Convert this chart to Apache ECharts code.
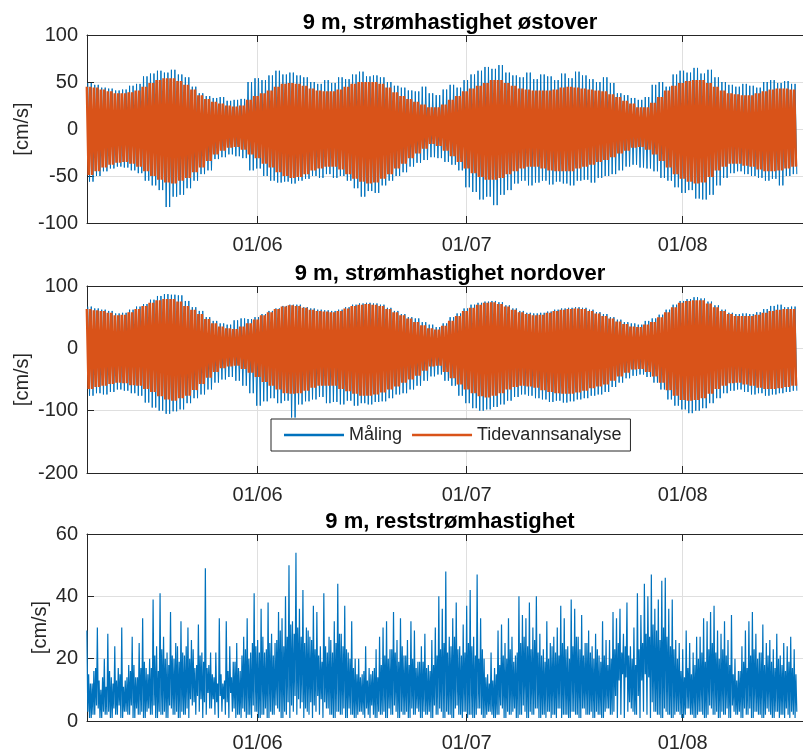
<!DOCTYPE html>
<html><head><meta charset="utf-8">
<script src="https://cdn.jsdelivr.net/npm/echarts@6/dist/echarts.min.js"></script>
<style>html,body{margin:0;padding:0;background:#fff}#c{width:803px;height:753px}</style>
</head><body><div id="c"></div>
<script>
// ---- Data (daily envelope extremes, cm/s), day 0 = 7 May 12:00 ----
const titles = ['9 m, strømhastighet østover', '9 m, strømhastighet nordover', '9 m, reststrømhastighet'];
const seriesNames = ['Måling', 'Tidevannsanalyse'];

const eastTideHi = [45,44,42,40,38,38,39,41,45,49, 52,54,54,51,47,42,36,32,29,27, 25,24,25,31,35,38,41,45,48,49, 48,46,43,41,40,40,42,45,48,50, 50,50,48,44,39,35,32,29,26,23, 23,26,31,35,40,43,46,49,52,52, 49,46,43,42,41,41,41,42,44,45, 44,43,42,41,40,37,34,30,27,23, 23,28,34,41,46,49,51,52,52,49, 45,41,38,37,36,36,38,40,42,43, 43,42];
const eastTideLo = [-49,-45,-41,-38,-36,-35,-37,-40,-45,-50, -54,-57,-58,-55,-52,-46,-41,-34,-27,-23, -20,-19,-22,-27,-31,-37,-41,-46,-50,-52, -51,-48,-44,-42,-40,-40,-43,-48,-53,-56, -58,-57,-53,-48,-42,-37,-31,-26,-21,-16, -18,-23,-29,-35,-42,-47,-51,-54,-54,-52, -48,-45,-42,-40,-40,-42,-44,-45,-45,-45, -42,-40,-38,-35,-33,-30,-26,-23,-20,-19, -22,-27,-34,-41,-48,-53,-56,-58,-57,-51, -44,-40,-37,-37,-39,-40,-43,-45,-45,-44, -42,-40];
const eastMeasHi = [49,47,44,43,41,42,46,48,56,59, 62,60,63,58,55,45,38,35,33,34, 30,31,32,50,54,52,57,62,58,60, 57,55,50,48,52,49,55,53,58,61, 56,57,55,50,46,44,41,40,45,38, 36,42,47,44,52,58,62,66,64,68, 60,57,55,60,53,58,56,52,59,54, 61,57,53,50,55,49,38,36,33,31, 34,47,50,45,58,62,60,65,59,63, 55,50,47,45,48,46,44,50,52,49, 51,48];
const eastMeasLo = [-56,-50,-45,-42,-40,-41,-44,-47,-55,-60, -65,-83,-72,-70,-63,-55,-48,-44,-32,-30, -27,-29,-31,-44,-42,-50,-55,-57,-56,-58, -55,-53,-50,-52,-48,-52,-50,-55,-63,-72, -66,-68,-60,-55,-50,-46,-40,-36,-33,-30, -31,-35,-38,-44,-62,-67,-75,-72,-81,-70, -65,-58,-55,-60,-57,-55,-59,-56,-58,-60, -55,-54,-57,-52,-50,-48,-44,-40,-38,-41, -42,-45,-52,-55,-62,-68,-65,-74,-75,-70, -60,-52,-47,-45,-48,-50,-52,-55,-53,-60, -50,-48];

const northTideHi = [63,61,60,57,53,54,58,63,68,73, 77,79,79,75,68,62,55,47,40,35, 32,31,35,40,46,53,58,63,67,69, 68,65,62,60,59,58,60,64,68,70, 71,70,68,63,58,53,48,42,37,32, 30,36,44,52,60,65,70,73,74,71, 67,62,58,55,53,54,57,60,62,63, 64,63,60,56,52,48,43,39,35,34, 38,42,50,58,66,73,76,77,77,72, 66,60,55,52,52,52,54,57,60,62, 63,63];
const northTideLo = [-65,-62,-60,-57,-55,-56,-59,-60,-65,-70, -77,-82,-84,-80,-76,-67,-57,-47,-38,-32, -29,-28,-33,-39,-46,-54,-60,-66,-72,-73, -72,-68,-63,-60,-60,-60,-65,-69,-73,-76, -76,-74,-71,-66,-61,-55,-50,-44,-36,-29, -28,-38,-48,-58,-66,-72,-77,-79,-76,-72, -66,-62,-60,-61,-63,-67,-70,-72,-73,-73, -71,-68,-64,-61,-58,-52,-45,-39,-34,-33, -38,-45,-55,-67,-76,-83,-84,-83,-80,-73, -65,-60,-56,-55,-58,-60,-63,-65,-65,-64, -62,-60];
const northMeasHi = [67,64,62,60,56,57,62,67,71,78, 84,87,86,85,76,66,60,50,44,40, 38,45,48,47,50,55,60,64,68,70, 70,66,64,62,61,60,62,66,70,72, 73,72,70,65,60,55,50,48,42,38, 34,40,50,56,64,70,73,75,76,74, 69,64,60,57,56,57,59,62,64,65, 66,65,62,58,55,50,46,42,40,38, 44,48,54,62,70,76,79,82,80,75, 69,62,57,55,56,55,58,63,68,70, 66,67];
const northMeasLo = [-76,-72,-74,-70,-66,-68,-72,-76,-87,-95, -100,-105,-101,-98,-88,-80,-74,-66,-55,-50, -46,-52,-60,-72,-92,-85,-80,-88,-84,-111, -90,-85,-82,-78,-88,-86,-90,-84,-92,-88, -90,-86,-85,-80,-74,-72,-66,-60,-52,-45, -42,-52,-60,-76,-88,-96,-100,-98,-94,-90, -84,-78,-74,-76,-80,-82,-86,-84,-87,-85, -82,-80,-76,-74,-70,-62,-55,-48,-44,-42, -46,-55,-66,-82,-92,-98,-104,-100,-96,-88, -80,-72,-68,-66,-70,-74,-72,-76,-74,-72, -70,-68];

// residual current: half-daily peaks, secondary peaks and troughs
const resHi = [29,12, 16,30, 10,20, 28,14, 24,17, 30,13, 18,27, 14,25, 33,17, 20,39,
  24,41, 27,22, 35,20, 24,32, 21,30, 26,17, 31,22, 49,18, 15,22, 33,12,
  32,24, 19,25, 16,27, 33,22, 41,26, 36,22, 38,28, 25,35, 33,40, 50,32,
  54,36, 42,30, 27,37, 35,24, 41,22, 26,32, 44,28, 37,22, 32,20, 20,15,
  24,17, 16,23, 27,30, 32,23, 35,26, 33,21, 26,32, 29,19, 24,28, 18,26,
  30,40, 36,48, 27,33, 38,24, 31,37, 42,27, 47,33, 20,15, 22,17, 29,31,
  25,33, 27,21, 40,34, 33,38, 30,40, 28,23, 32,25, 27,30, 37,33, 24,39,
  36,27, 34,25, 29,24, 28,21, 32,26, 26,35, 33,36, 28,38, 24,30, 41,34,
  44,40, 47,36, 39,45, 46,36, 39,26, 25,23, 29,25, 22,27, 27,33, 32,35,
  37,29, 28,32, 26,34, 20,16, 24,29, 32,35, 28,22, 31,25, 26,23, 28,21,
  25,24, 27,23];
const resMid = [15,12,17,13,14,11,16,12,13,15,11,14, 16,18,14,17,19,15,17,21,16,23,20,18,
  21,25,19,22,24,20,23,18,21,19,17,22, 14,12,15,13,16,14,19,17,21,23,20,25,
  24,22,27,23,25,21,26,29,24,27,31,28, 30,27,25,29,26,23,21,19,24,27,22,25,
  28,24,23,20,17,15,14,16,13,15,17,14, 18,21,20,23,22,19,24,21,18,20,17,19,
  19,17,16,18,21,23,25,22,24,27,23,21, 22,25,24,21,20,23,14,12,13,15,18,21,
  20,23,19,22,25,27,24,23,26,22,21,19, 20,24,22,21,25,23,20,24,27,23,21,25,
  22,20,23,19,21,18,20,23,25,22,24,21, 20,18,23,25,28,27,31,29,26,30,27,24,
  23,20,16,14,17,15,18,20,22,19,23,25, 22,20,23,21,18,15,13,16,19,17,21,23,
  20,22,18,21,19,17,20,18,16,19,17,15];
const resLo = [3,1,2,4,1,2,3,1,2,5,1,3, 2,1,4,2,1,3,2,5,1,2,3,1, 4,2,1,3,2,1,5,2,3,1,2,4,
  7,6,8,7,6,9,4,2,1,3,2,1, 3,1,2,4,1,2,5,3,1,2,1,3, 2,4,1,3,6,5,8,7,6,4,2,1,
  3,2,1,4,2,1,3,2,4,1,2,1, 2,3,1,2,5,1,3,2,1,4,2,3, 1,2,3,1,2,4,1,3,2,1,5,2,
  3,1,2,1,4,2,1,3,2,1,2,4, 1,2,3,1,2,5,1,3,2,4,1,2, 3,1,2,4,1,2,1,3,2,1,4,2,
  2,1,3,2,1,4,2,3,1,2,1,3, 4,2,8,13,15,14,6,3,2,1,3,2, 1,3,2,1,4,2,1,2,3,1,2,4,
  2,1,3,2,1,5,2,3,1,2,4,1, 3,2,1,4,2,1,3,2,1,2,3,1];

// ---- Build ----
const DAY = 86400000, HOUR = 3600000;
const start = new Date(2021, 4, 7, 12, 0).getTime();
const xMin = new Date(2021, 4, 7, 12, 20).getTime();
const xMax = xMin + 102.75 * DAY;

// each day's range drawn at the semidiurnal tidal period (two cycles per day)
function tidal(hi, lo, offset) {
  const out = [];
  hi.forEach((v, i) => {
    const t = start + i * DAY + offset;
    out.push([t, v], [t + 6 * HOUR, lo[i]], [t + 12 * HOUR, v], [t + 18 * HOUR, lo[i]]);
  });
  return out;
}
const resData = [];
resHi.forEach((v, k) => {
  const t = start + k * 12 * HOUR;
  resData.push([t, v], [t + 3 * HOUR, resLo[k]], [t + 6 * HOUR, resMid[k]], [t + 9 * HOUR, resLo[(k + 7) % resLo.length]]);
});

const FONT = '"Liberation Sans", Arial, Helvetica, sans-serif';
const AX = '#262626', GRIDC = '#dfdfdf', BLUE = '#0072BD', ORANGE = '#D95319';
const grids = [
  {left: 87, top: 35, width: 726, height: 188},
  {left: 87, top: 286, width: 726, height: 187},
  {left: 87, top: 534, width: 726, height: 189}
];
const yCfg = [
  {min: -100, max: 100, interval: 50, gap: 55},
  {min: -200, max: 100, interval: 100, gap: 55},
  {min: 0, max: 60, interval: 20, gap: 37}
];

const xAxis = [], yAxis = [];
grids.forEach((g, i) => {
  const base = {
    type: 'time', gridIndex: i, min: xMin, max: xMax,
    minInterval: 28 * DAY, maxInterval: 32 * DAY,
    axisLine: {onZero: false, lineStyle: {color: AX, width: 1}},
    axisTick: {inside: true, length: 7, lineStyle: {color: AX}}
  };
  xAxis.push(Object.assign({}, base, {
    position: 'bottom',
    axisLabel: {formatter: '{dd}/{MM}', color: AX, fontSize: 20, fontFamily: FONT, margin: 12, hideOverlap: false},
    splitLine: {show: true, lineStyle: {color: GRIDC, width: 1}}
  }));
  xAxis.push(Object.assign({}, base, {
    position: 'top', axisLabel: {show: false}, splitLine: {show: false}
  }));
  yAxis.push({
    type: 'value', gridIndex: i, min: yCfg[i].min, max: yCfg[i].max, interval: yCfg[i].interval,
    axisLine: {show: true, onZero: false, lineStyle: {color: AX, width: 1}},
    axisTick: {show: true, inside: true, length: 7, lineStyle: {color: AX}},
    axisLabel: {color: AX, fontSize: 20, fontFamily: FONT, margin: 9},
    splitLine: {show: true, lineStyle: {color: GRIDC, width: 1}},
    name: '[cm/s]', nameLocation: 'middle', nameGap: yCfg[i].gap, nameMoveOverlap: false,
    nameTextStyle: {color: AX, fontSize: 20, fontFamily: FONT}
  });
});

function lineSeries(name, idx, data, color, width, z) {
  return {
    type: 'line', name: name, xAxisIndex: idx * 2, yAxisIndex: idx, data: data,
    symbol: 'none', showSymbol: false, lineStyle: {color: color, width: width, join: 'bevel'},
    itemStyle: {color: color}, z: z, silent: true
  };
}
const series = [
  lineSeries(seriesNames[0], 0, tidal(eastMeasHi, eastMeasLo, 3 * HOUR), BLUE, 1, 2),
  lineSeries(seriesNames[1], 0, tidal(eastTideHi, eastTideLo, 0), ORANGE, 2.6, 3),
  lineSeries(seriesNames[0], 1, tidal(northMeasHi, northMeasLo, 3 * HOUR), BLUE, 1, 2),
  lineSeries(seriesNames[1], 1, tidal(northTideHi, northTideLo, 0), ORANGE, 2.6, 3),
  lineSeries('Reststrøm', 2, resData, BLUE, 1.2, 2)
];

const titleY = [23, 274, 522];
const chart = echarts.init(document.getElementById('c'), null, {renderer: 'canvas'});
chart.setOption({
  animation: false,
  backgroundColor: '#fff',
  grid: grids,
  xAxis: xAxis,
  yAxis: yAxis,
  series: series,
  legend: {
    data: seriesNames, left: 271, top: 419, orient: 'horizontal',
    icon: 'rect', itemWidth: 60, itemHeight: 2.5, itemGap: 10,
    padding: [7, 9, 7, 13], borderColor: AX, borderWidth: 1, borderRadius: 0,
    backgroundColor: '#fff', selectedMode: false,
    textStyle: {color: AX, fontSize: 18, fontFamily: FONT}, z: 10
  },
  graphic: titles.map((t, i) => ({
    type: 'text', x: 450, y: titleY[i], z: 10,
    style: {text: t, font: 'bold 22px ' + FONT, fill: '#000',
      align: 'center', verticalAlign: 'middle', textAlign: 'center', textVerticalAlign: 'middle'}
  }))
});
</script></body></html>
